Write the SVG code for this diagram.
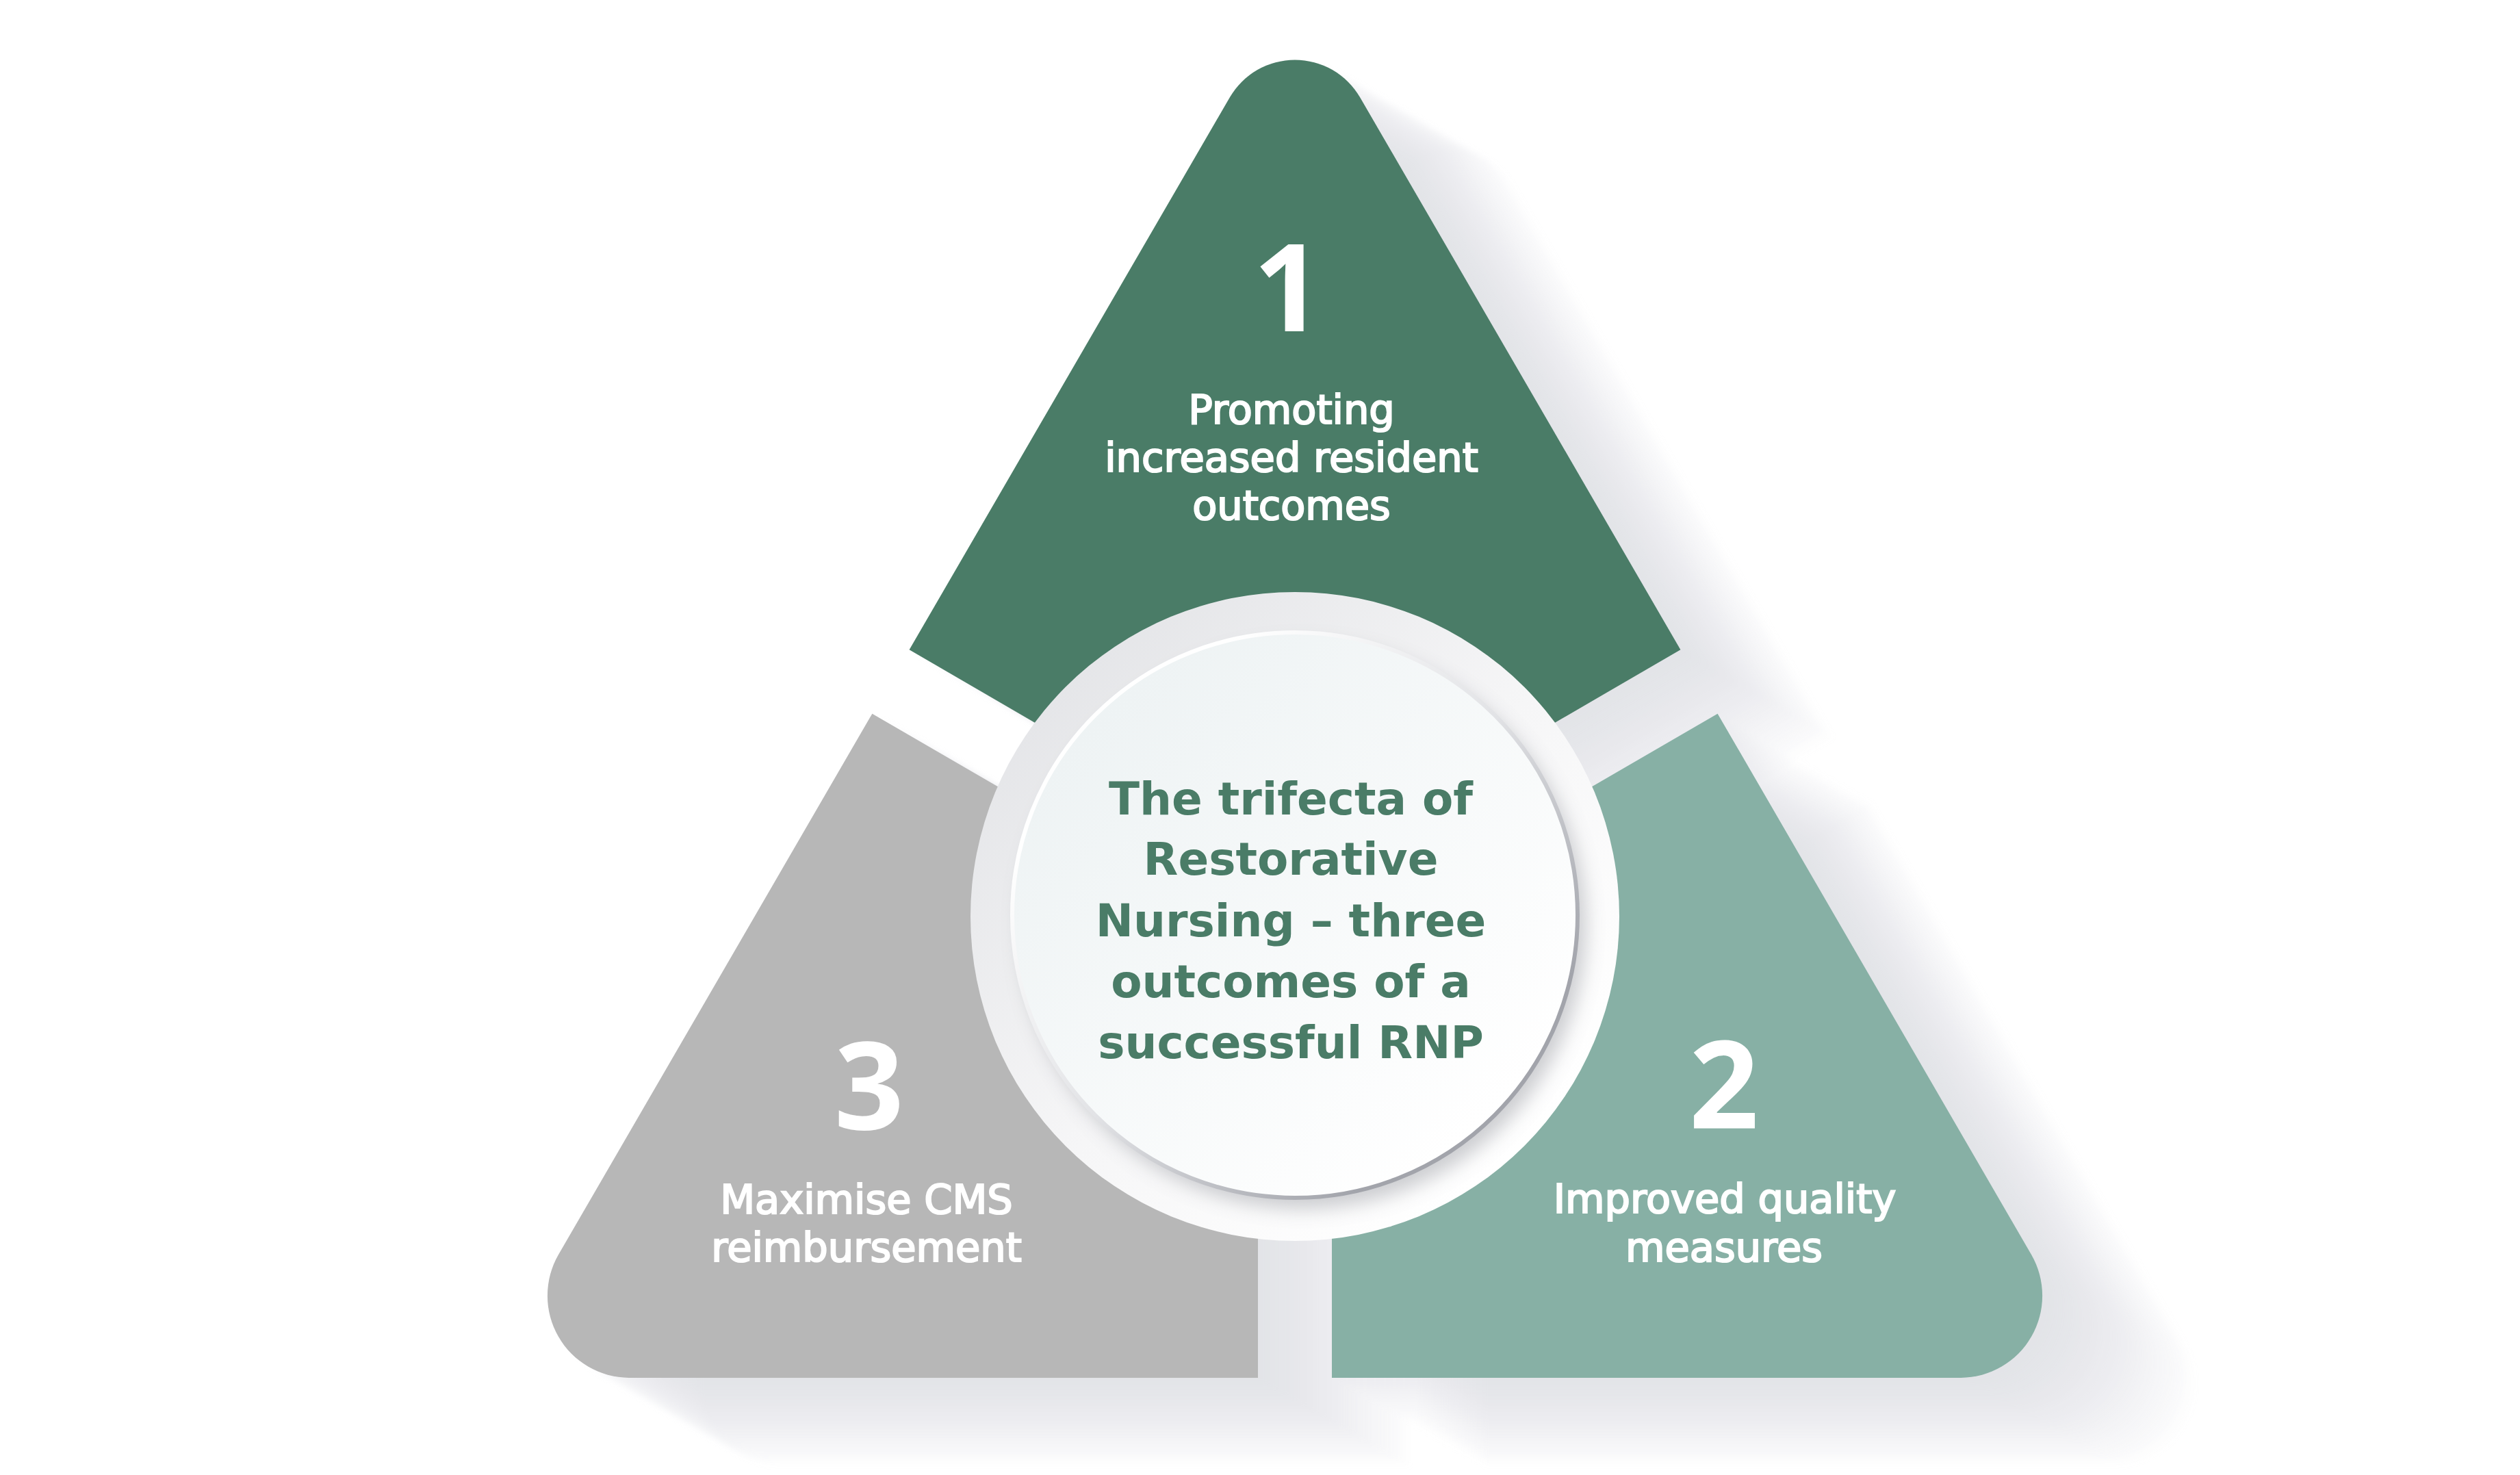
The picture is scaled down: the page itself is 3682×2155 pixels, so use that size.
<svg xmlns="http://www.w3.org/2000/svg" xmlns:xlink="http://www.w3.org/1999/xlink" width="3682" height="2155" viewBox="0 0 3682 2155">
<style>
.lbl{font-family:"DejaVu Sans","Liberation Sans",sans-serif;font-weight:400;font-size:59px;fill:#ffffff;stroke:#ffffff;stroke-width:2.2px;text-anchor:middle}
.num{font-family:"Open Sans","Liberation Sans",sans-serif;font-weight:700;font-size:178px;fill:#ffffff;text-anchor:middle}
.ctr{font-family:"DejaVu Sans","Liberation Sans",sans-serif;font-weight:700;font-size:66px;fill:#4a7c67;text-anchor:middle}
.c1{fill:#4a7c67}.c2{fill:#87b0a5}.c3{fill:#b7b7b7}
</style>
<defs>
<path id="p1" d="M1328.6,949.3 L1797,142 A110,110 0 0 1 1987,142 L2455.4,949.3 L1892,1276.4 Z"/>
<path id="p2" d="M2509.6,1042.7 L2968,1833 A120,120 0 0 1 2865,2013 L1946,2013 L1946,1369.9 Z"/>
<path id="p3" d="M1274.4,1042.7 L1838,1369.9 L1838,2013 L919,2013 A120,120 0 0 1 816,1833 Z"/>
<g id="allp"><use xlink:href="#p1"/><use xlink:href="#p2"/><use xlink:href="#p3"/></g>
<filter id="soft" filterUnits="userSpaceOnUse" x="0" y="0" width="3682" height="2155"><feGaussianBlur stdDeviation="4"/></filter>
<filter id="ds" filterUnits="userSpaceOnUse" x="1300" y="750" width="1200" height="1200"><feGaussianBlur stdDeviation="14"/></filter>
<linearGradient id="ring" x1="0.1" y1="0.1" x2="0.85" y2="0.85"><stop offset="0" stop-color="#e3e4e7"/><stop offset="0.55" stop-color="#f6f6f7"/><stop offset="1" stop-color="#ffffff"/></linearGradient>
<linearGradient id="face" x1="0.15" y1="0.15" x2="0.85" y2="0.85"><stop offset="0" stop-color="#eef3f4"/><stop offset="1" stop-color="#ffffff"/></linearGradient>
<linearGradient id="rim" x1="0.2" y1="0.2" x2="0.8" y2="0.8"><stop offset="0" stop-color="#ffffff"/><stop offset="0.5" stop-color="#e2e3e6"/><stop offset="1" stop-color="#a2a4ab"/></linearGradient>
</defs>
<rect width="3682" height="2155" fill="#ffffff"/>
<g id="shadows" fill="#cfd2d8" filter="url(#soft)">
<use xlink:href="#allp" transform="translate(14,8)" opacity="0.05"/>
<use xlink:href="#allp" transform="translate(28,16)" opacity="0.05"/>
<use xlink:href="#allp" transform="translate(42,24)" opacity="0.05"/>
<use xlink:href="#allp" transform="translate(55,32)" opacity="0.05"/>
<use xlink:href="#allp" transform="translate(69,40)" opacity="0.05"/>
<use xlink:href="#allp" transform="translate(83,48)" opacity="0.05"/>
<use xlink:href="#allp" transform="translate(97,56)" opacity="0.05"/>
<use xlink:href="#allp" transform="translate(111,64)" opacity="0.05"/>
<use xlink:href="#allp" transform="translate(125,72)" opacity="0.05"/>
<use xlink:href="#allp" transform="translate(139,80)" opacity="0.05"/>
<use xlink:href="#allp" transform="translate(152,88)" opacity="0.05"/>
<use xlink:href="#allp" transform="translate(166,96)" opacity="0.05"/>
<use xlink:href="#allp" transform="translate(180,104)" opacity="0.05"/>
<use xlink:href="#allp" transform="translate(194,112)" opacity="0.05"/>
<use xlink:href="#allp" transform="translate(208,120)" opacity="0.05"/>
<use xlink:href="#allp" transform="translate(222,128)" opacity="0.05"/>
</g>
<g id="node-1">
<use xlink:href="#p1" class="c1"/>
<text class="num" x="1882" y="484">1</text>
<text class="lbl" x="1887" y="619">Promoting</text>
<text class="lbl" x="1887" y="689">increased resident</text>
<text class="lbl" x="1887" y="759">outcomes</text>
</g>
<g id="node-2">
<use xlink:href="#p2" class="c2"/>
<text class="num" x="2519" y="1648">2</text>
<text class="lbl" x="2520" y="1772">Improved quality</text>
<text class="lbl" x="2519" y="1843">measures</text>
</g>
<g id="node-3">
<use xlink:href="#p3" class="c3"/>
<text class="num" x="1270" y="1650">3</text>
<text class="lbl" x="1266" y="1773">Maximise CMS</text>
<text class="lbl" x="1266" y="1843">reimbursement</text>
</g>
<g id="center">
<circle cx="1892" cy="1339" r="474" fill="url(#ring)"/>
<circle cx="1904" cy="1353" r="413" fill="#8f9299" opacity="0.45" filter="url(#ds)"/>
<circle cx="1892" cy="1337" r="413" fill="url(#face)" stroke="url(#rim)" stroke-width="6"/>
<text class="ctr" x="1886" y="1190">The trifecta of</text>
<text class="ctr" x="1886" y="1278">Restorative</text>
<text class="ctr" x="1886" y="1368">Nursing – three</text>
<text class="ctr" x="1886" y="1457">outcomes of a</text>
<text class="ctr" x="1886" y="1546">successful RNP</text>
</g>
<g id="connectors"></g>
</svg>
